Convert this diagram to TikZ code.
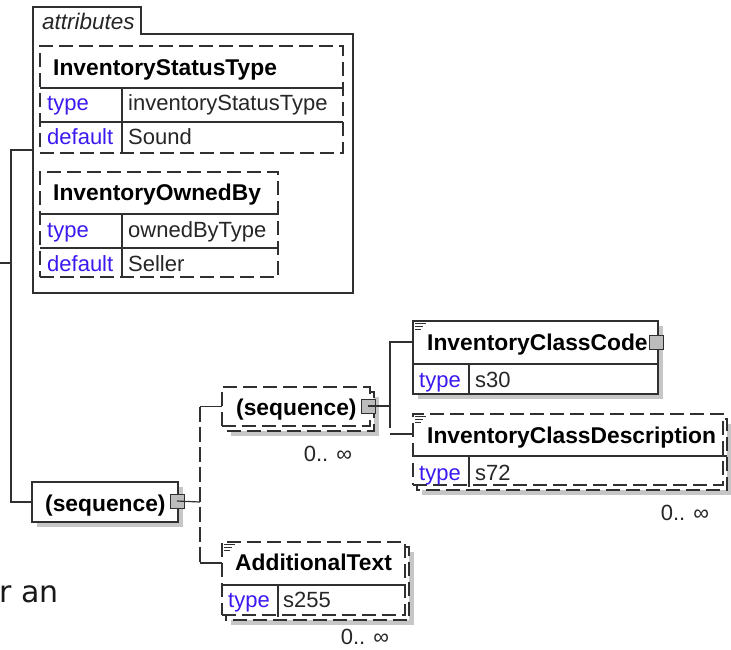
\documentclass[tikz,border=0pt]{standalone}
\usepackage{fontspec}
\setmainfont{Liberation Sans}
\newfontfamily\pagefont{DejaVu Sans}
\usepackage{tikz}
\usetikzlibrary{calc,positioning}
\definecolor{KeyBlue}{HTML}{3A1AF0}
\definecolor{LineGray}{HTML}{303030}
\definecolor{ShadeGray}{HTML}{C6C6C6}
\definecolor{PlusGray}{HTML}{BCBCBC}
\tikzset{
  xsbox/.style={draw=LineGray, fill=white, line width=1.2pt, inner sep=0pt, outer sep=0pt, anchor=north west},
  xsopt/.style={xsbox, dash pattern=on 14pt off 6pt},
  xsshade/.style={fill=ShadeGray},
  xsrule/.style={draw=LineGray, line width=1.2pt},
  xslink/.style={draw=LineGray, line width=1.2pt},
  xsoptlink/.style={xslink, dash pattern=on 15pt off 5pt},
  xsplus/.style={draw=LineGray, fill=PlusGray, line width=1pt, minimum size=14pt, inner sep=0pt},
  xsname/.style={font=\fontsize{22.8}{26}\selectfont\bfseries, text=black, inner sep=0pt, anchor=base west},
  xstext/.style={font=\fontsize{22}{25}\selectfont, text=black!85, inner sep=0pt, anchor=base west},
  xskey/.style={xstext, text=KeyBlue},
  xscount/.style={xstext, anchor=base}
}
\begin{document}
\begin{tikzpicture}[x=1pt,y=-1pt]
  \useasboundingbox (0,0) rectangle (731,649);
  \foreach \x/\y/\w/\h in {45/51/303/107, 45/177/238/105, 37/487/146/40, 231/397/148/39, 418/326/245/73, 422/424/310/71, 231/552/183/73} {
    \fill[xsshade] (\x,\y) rectangle ++(\w,\h);
  }
  \draw[xslink, fill=white] (33,293) -- (33,7) -- (141,7) -- (141,34) -- (353,34) -- (353,293) -- cycle;
  \node[xstext, font=\fontsize{22.5}{25}\selectfont\itshape] (attrlbl) at (42,29) {attributes};
  \foreach \x/\y/\w/\h in {226/392/148/39, 417/419/310/71, 226/547/183/73} {
    \draw[xsopt] (\x,\y) rectangle ++(\w,\h);
  }
  \node[xsopt, minimum width=303pt, minimum height=107pt] (ist) at (40,46) {};
  \node[xsopt, minimum width=238pt, minimum height=105pt] (iob) at (40,172) {};
  \node[xsbox, minimum width=146pt, minimum height=40pt] (seqa) at (32,482) {};
  \node[xsopt, minimum width=148pt, minimum height=39pt] (seqb) at (222,387) {};
  \node[xsbox, minimum width=245pt, minimum height=73pt] (icc) at (413,321) {};
  \node[xsopt, minimum width=310pt, minimum height=71pt] (icd) at (413,414) {};
  \node[xsopt, minimum width=183pt, minimum height=73pt] (adt) at (222,542) {};
  \draw[xsrule] (40,88) -- (343,88) (40,122) -- (343,122) (122,88) -- (122,153);
  \draw[xsrule] (40,214) -- (278,214) (40,248) -- (278,248) (122,214) -- (122,277);
  \draw[xsrule] (413,364) -- (658,364) (469,364) -- (469,394);
  \draw[xsrule] (413,456) -- (727,456) (469,456) -- (469,487);
  \draw[xsrule] (222,585) -- (405,585) (278,585) -- (278,617);
  \foreach \x/\y in {415/323, 415/416, 224/544} {
    \draw[LineGray, line width=0.8pt] (\x,\y) -- ++(11,0) (\x,\y+3) -- ++(8,0) (\x,\y+6) -- ++(6,0);
  }
  \node[xsname] (istname) at (53,75) {InventoryStatusType};
  \node[xskey] (isttype) at (47,110) {type};
  \node[xstext] (istval) at (128,110) {inventoryStatusType};
  \node[xskey] (istdef) at (47,144) {default};
  \node[xstext] (istdval) at (128,144) {Sound};
  \node[xsname] (iobname) at (53,200) {InventoryOwnedBy};
  \node[xskey] (iobtype) at (47,237) {type};
  \node[xstext] (iobval) at (128,237) {ownedByType};
  \node[xskey] (iobdef) at (47,271) {default};
  \node[xstext] (iobdval) at (128,271) {Seller};
  \node[xsname] (seqaname) at (45,511) {(sequence)};
  \node[xsname] (seqbname) at (236,415) {(sequence)};
  \node[xscount] (seqbcount) at (328,461) {0.. ∞};
  \node[xsname] (iccname) at (427,350) {InventoryClassCode};
  \node[xskey] (icctype) at (419,387) {type};
  \node[xstext] (iccval) at (475,387) {s30};
  \node[xsname] (icdname) at (427,443) {InventoryClassDescription};
  \node[xskey] (icdtype) at (419,480) {type};
  \node[xstext] (icdval) at (475,480) {s72};
  \node[xscount] (icdcount) at (685,520) {0.. ∞};
  \node[xsname] (adtname) at (235,570) {AdditionalText};
  \node[xskey] (adttype) at (228,607) {type};
  \node[xstext] (adtval) at (283,607) {s255};
  \node[xscount] (adtcount) at (365,644) {0.. ∞};
  \node[xstext, font=\fontsize{30}{34}\pagefont, text=black!90] (pagetext) at (-1,602) {r an};
  \node[xsplus] (seqaplus) at (177,501) {};
  \node[xsplus] (seqbplus) at (368,406) {};
  \node[xsplus] (iccplus) at (656,342) {};
  \coordinate (feed) at (0,263);
  \coordinate (trunk) at (11,263);
  \coordinate (attrin) at (33,150);
  \coordinate (forkA) at (200,502);
  \coordinate (adtin) at (222,563);
  \coordinate (forkB) at (390,406);
  \coordinate (forkBend) at (390,428);
  \coordinate (iccin) at (413,342);
  \coordinate (icdin) at (413,434);
  \draw[xslink] (feed) -- (trunk);
  \draw[xslink] (attrin) -| (trunk) |- (seqa.west);
  \draw[xslink] (seqaplus.center) -- (forkA);
  \draw[xsoptlink] (forkA |- seqb.west) -- (forkA |- adtin);
  \draw[xslink] (forkA |- seqb.west) -- (seqb.west);
  \draw[xslink] (forkA |- adtin) -- (adtin);
  \draw[xslink] (seqbplus.center) -- (forkB);
  \draw[xslink] (iccin) -| (forkBend);
  \draw[xslink] (icdin) -- (forkB |- icdin);
\end{tikzpicture}
\end{document}
